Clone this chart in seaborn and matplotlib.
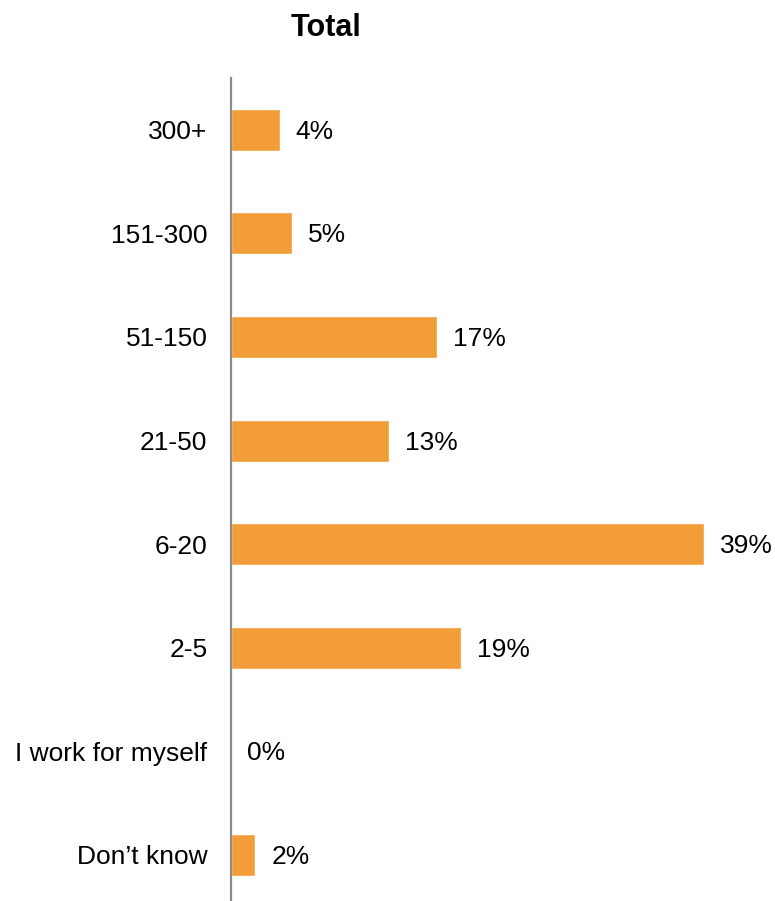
import matplotlib
matplotlib.use("Agg")
import matplotlib.pyplot as plt
import seaborn as sns
import pandas as pd

categories = ["300+", "151-300", "51-150", "21-50", "6-20", "2-5",
              "I work for myself", "Don\u2019t know"]
values = [4, 5, 17, 13, 39, 19, 0, 2]
value_labels = ["4%", "5%", "17%", "13%", "39%", "19%", "0%", "2%"]
title = "Total"

sns.set_style("white")
plt.rcParams["font.family"] = ["Liberation Sans", "DejaVu Sans"]

W, H = 775, 901
fig = plt.figure(figsize=(W / 100, H / 100), dpi=100)
ax_left, ax_top = 231, 78
ax_h = 8 * 103.6
ax = fig.add_axes([ax_left / W, (H - ax_top - ax_h) / H, (W - ax_left) / W, ax_h / H])

df = pd.DataFrame({"cat": categories, "val": values})
sns.barplot(data=df, x="val", y="cat", orient="h", color="#F39D38",
            saturation=1, width=0.405, ax=ax)

ax.set_xlim(0, (W - ax_left) / 12.13)
ax.set_ylim(len(categories) - 0.5, -0.5)

for i, (v, lab) in enumerate(zip(values, value_labels)):
    ax.annotate(lab, xy=(v, i), xytext=(11.5, -1.5), textcoords="offset points",
                ha="left", va="center", fontsize=19, color="black")

for side in ["top", "right", "bottom"]:
    ax.spines[side].set_visible(False)
ax.spines["left"].set_color("#8C8C8C")
ax.spines["left"].set_linewidth(1.6)
ax.set_xticks([])
ax.set_xlabel("")
ax.set_ylabel("")
ax.tick_params(axis="y", length=0, pad=17, labelsize=19, labelcolor="black")

fig.text(326 / W, 1 - 28.5 / H, title, ha="center", va="center",
         fontsize=22, fontweight="bold", color="black")

fig.savefig("out.png", dpi=100, facecolor="white")
